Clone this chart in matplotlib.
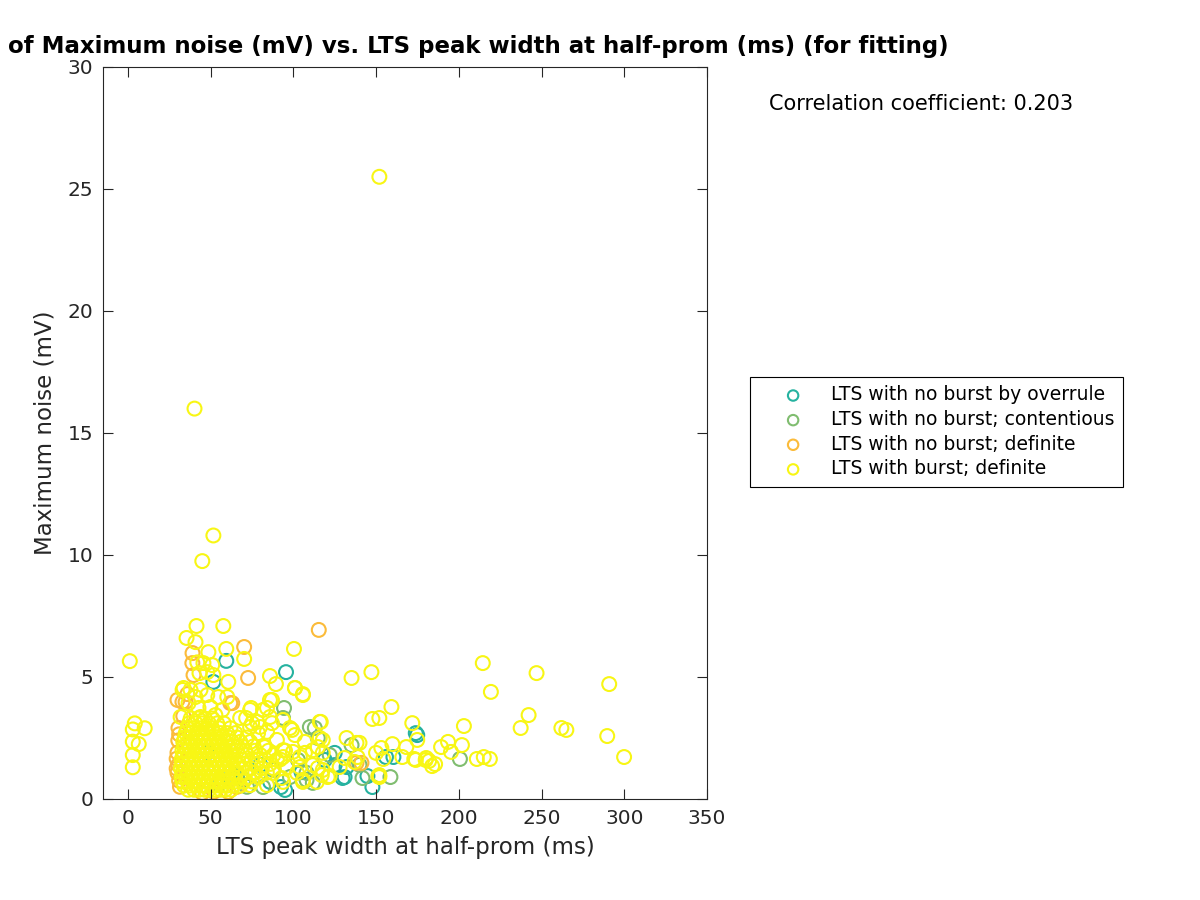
import numpy as np
import matplotlib
matplotlib.use('Agg')
import matplotlib.pyplot as plt

# Data (x: LTS peak width at half-prom (ms), y: maximum noise (mV))
overrule = [(59.5, 5.66), (51.7, 4.80), (95.6, 5.20), (125.0, 1.89), (131.0, 0.90),
            (144.8, 0.94), (147.8, 0.49), (160.5, 1.72), (174.9, 2.62), (174.0, 2.70),
            (92.5, 0.49), (95.0, 0.37), (119.0, 1.60), (129.8, 0.86), (132.2, 1.31),
            (125.0, 1.39), (156.0, 1.72), (62.0, 1.10), (70.0, 0.80), (80.0, 1.40),
            (55.0, 0.60), (48.0, 1.90), (86.0, 0.70), (105.0, 1.10)]

contentious = [(94.4, 3.73), (93.8, 3.32), (113.0, 2.91), (114.8, 2.50), (135.2, 2.21),
               (141.8, 0.86), (158.7, 0.90), (200.7, 1.64), (108.0, 0.78), (111.8, 0.66),
               (102.8, 1.60), (110.0, 2.95), (108.0, 1.07), (81.7, 0.49), (72.0, 0.50),
               (122.0, 1.80), (88.0, 1.20), (66.0, 0.90), (98.0, 0.90), (140.0, 1.40)]

no_burst = [(39.1, 5.98), (70.3, 6.23), (72.7, 4.96), (115.4, 6.93), (63.1, 3.93),
            (39.0, 5.57), (39.7, 5.08), (33.0, 3.98), (34.9, 3.98), (30.6, 2.91),
            (30.5, 2.40), (30.0, 1.90), (30.5, 1.40), (30.0, 1.07), (31.0, 0.75),
            (31.5, 0.50), (61.9, 3.93), (138.2, 1.48), (141.2, 1.48), (30.0, 4.06),
            (31.0, 2.65), (29.5, 1.65), (29.5, 1.25), (66.0, 0.50), (60.7, 0.29),
            (36.0, 4.30), (33.5, 3.40), (45.0, 0.25), (52.0, 0.30)]

burst = [
    # outliers
    (152.0, 25.5), (40.3, 16.0), (51.7, 10.8), (45.0, 9.75), (1.2, 5.65),
    (4.2, 3.10), (3.0, 2.85), (10.2, 2.90), (3.0, 2.35), (6.6, 2.25),
    (3.0, 1.80), (3.0, 1.30),
    # right tail
    (214.5, 5.57), (247.0, 5.16), (290.9, 4.71), (219.4, 4.39), (242.2, 3.44),
    (237.4, 2.91), (262.0, 2.91), (265.0, 2.83), (289.7, 2.58), (299.9, 1.72),
    (203.1, 2.99), (201.9, 2.21), (189.3, 2.13), (193.5, 2.34), (195.3, 1.93),
    (210.9, 1.64), (215.1, 1.72), (218.8, 1.64), (183.9, 1.35), (185.7, 1.43),
    (182.1, 1.56), (180.3, 1.68), (173.1, 1.64), (171.9, 3.11), (174.9, 2.42),
    (168.3, 2.13), (159.9, 2.25), (153.2, 2.09), (154.4, 1.64), (165.9, 1.72),
    (151.4, 0.94), (159.3, 3.77), (147.8, 3.28), (152.0, 3.32), (135.2, 4.96),
    (147.2, 5.20), (105.8, 4.30), (140.0, 2.30), (132.2, 2.50), (122.0, 0.94),
    (117.2, 0.98), (116.0, 3.16), (174.0, 1.60), (180.0, 1.60), (152.0, 0.90),
    (150.0, 1.89), (152.0, 0.98), (138.8, 1.72), (138.2, 2.30),
    # middle region
    (41.5, 7.09), (57.7, 7.09), (35.5, 6.60), (40.9, 6.43), (48.7, 6.02),
    (59.5, 6.15), (70.3, 5.74), (60.7, 4.80), (100.4, 6.15), (85.9, 5.04),
    (89.5, 4.71), (101.0, 4.55), (87.1, 4.06), (84.1, 3.73), (74.5, 3.73),
    (60.1, 4.18), (33.1, 4.47), (71.5, 3.32), (78.1, 3.16), (98.0, 2.91),
    (116.6, 3.16), (42.0, 5.60), (45.7, 5.57), (51.0, 5.49), (43.3, 5.16),
    (48.0, 5.20), (51.7, 5.08), (33.7, 4.55), (37.9, 4.47), (43.9, 4.47),
    (36.7, 3.93), (40.9, 4.18), (48.0, 4.26), (54.7, 4.18), (42.7, 3.73),
    (49.9, 3.77), (57.1, 3.65), (31.9, 3.36), (43.9, 3.36), (52.9, 3.44),
    (67.9, 3.32), (73.9, 3.65), (81.7, 3.65), (85.9, 4.06), (75.1, 3.11),
    (79.9, 2.95), (87.1, 3.11), (85.9, 3.36), (101.0, 4.55), (105.8, 4.26),
    (93.8, 3.24), (99.2, 2.83), (116.0, 2.50), (114.8, 2.13), (107.0, 2.34),
    (111.8, 2.00), (107.0, 1.89), (99.8, 1.93), (131.0, 1.68), (137.0, 1.52),
    (128.0, 1.31), (105.8, 0.78), (117.8, 1.19), (111.8, 1.39), (93.8, 1.72),
    (93.0, 0.86), (104.0, 1.31), (73.9, 2.95), (78.7, 2.70), (84.1, 2.75),
    (90.1, 2.42), (101.0, 2.62), (82.9, 2.13), (93.8, 2.00), (104.0, 1.72),
    (90.1, 1.60), (78.1, 1.60), (96.2, 1.31), (102.2, 1.07), (87.7, 1.07),
    (75.7, 1.07), (93.8, 0.70), (105.8, 0.70), (84.1, 0.57), (73.9, 0.57),
    (114.8, 1.27), (117.8, 1.89), (117.8, 2.42), (120.8, 0.90), (114.2, 0.70),
    # dense core
    (36.5, 0.38), (40.0, 0.38), (43.0, 0.38), (46.5, 0.38), (49.0, 0.38),
    (52.5, 0.38), (56.0, 0.38), (59.0, 0.38), (62.5, 0.38),
    (34.0, 0.55), (37.5, 0.55), (41.0, 0.55), (44.0, 0.55), (47.0, 0.55),
    (50.5, 0.55), (53.0, 0.55), (57.0, 0.55), (60.0, 0.55), (64.0, 0.55),
    (68.0, 0.55),
    (33.0, 0.72), (36.0, 0.72), (39.5, 0.72), (42.5, 0.72), (45.5, 0.72),
    (48.5, 0.72), (52.0, 0.72), (55.0, 0.72), (58.5, 0.72), (61.5, 0.72),
    (65.0, 0.72), (70.0, 0.72), (75.0, 0.72),
    (32.5, 0.90), (35.5, 0.90), (38.5, 0.90), (41.5, 0.90), (44.5, 0.90),
    (47.5, 0.90), (51.0, 0.90), (54.0, 0.90), (57.5, 0.90), (60.5, 0.90),
    (64.0, 0.90), (68.0, 0.90), (73.0, 0.90), (79.0, 0.90),
    (33.0, 1.08), (36.0, 1.08), (39.0, 1.08), (42.0, 1.08), (45.5, 1.08),
    (48.5, 1.08), (51.5, 1.08), (55.0, 1.08), (58.0, 1.08), (61.0, 1.08),
    (65.0, 1.08), (71.0, 1.08), (77.0, 1.08), (84.0, 1.08),
    (32.0, 1.26), (35.0, 1.26), (38.5, 1.26), (41.5, 1.26), (44.5, 1.26),
    (47.5, 1.26), (50.5, 1.26), (53.5, 1.26), (57.0, 1.26), (60.0, 1.26),
    (63.5, 1.26), (67.0, 1.26), (74.0, 1.26), (81.0, 1.26), (88.0, 1.26),
    (33.0, 1.44), (36.5, 1.44), (39.5, 1.44), (42.5, 1.44), (45.5, 1.44),
    (49.0, 1.44), (52.0, 1.44), (55.5, 1.44), (58.5, 1.44), (62.0, 1.44),
    (66.0, 1.44), (70.0, 1.44), (78.0, 1.44), (86.0, 1.44),
    (32.5, 1.62), (35.5, 1.62), (38.5, 1.62), (41.5, 1.62), (45.0, 1.62),
    (48.0, 1.62), (51.0, 1.62), (54.0, 1.62), (57.5, 1.62), (61.0, 1.62),
    (64.5, 1.62), (69.0, 1.62), (75.0, 1.62), (83.0, 1.62), (92.0, 1.62),
    (33.5, 1.80), (36.5, 1.80), (40.0, 1.80), (43.0, 1.80), (46.0, 1.80),
    (49.5, 1.80), (52.5, 1.80), (56.0, 1.80), (59.0, 1.80), (62.5, 1.80),
    (67.0, 1.80), (72.0, 1.80), (80.0, 1.80), (88.0, 1.80),
    (33.0, 1.98), (36.0, 1.98), (39.0, 1.98), (42.5, 1.98), (45.5, 1.98),
    (48.5, 1.98), (51.5, 1.98), (55.0, 1.98), (58.5, 1.98), (62.0, 1.98),
    (66.0, 1.98), (71.0, 1.98), (77.0, 1.98), (85.0, 1.98), (95.0, 1.98),
    (34.0, 2.16), (37.0, 2.16), (40.5, 2.16), (43.5, 2.16), (46.5, 2.16),
    (50.0, 2.16), (53.5, 2.16), (57.0, 2.16), (60.5, 2.16), (64.0, 2.16),
    (69.0, 2.16), (76.0, 2.16), (82.0, 2.16),
    (33.5, 2.34), (36.5, 2.34), (39.5, 2.34), (42.5, 2.34), (46.0, 2.34),
    (49.0, 2.34), (52.0, 2.34), (55.5, 2.34), (59.0, 2.34), (63.0, 2.34),
    (68.0, 2.34), (74.0, 2.34),
    (34.5, 2.52), (38.0, 2.52), (41.0, 2.52), (44.0, 2.52), (47.0, 2.52),
    (50.5, 2.52), (54.0, 2.52), (57.5, 2.52), (61.0, 2.52), (66.0, 2.52),
    (72.0, 2.52),
    (35.0, 2.70), (38.5, 2.70), (42.0, 2.70), (45.0, 2.70), (48.5, 2.70),
    (52.0, 2.70), (56.0, 2.70), (60.0, 2.70), (65.0, 2.70),
    (36.0, 2.90), (40.0, 2.90), (44.0, 2.90), (47.5, 2.90), (51.0, 2.90),
    (55.0, 2.90), (62.0, 2.90),
    (37.0, 3.10), (41.0, 3.10), (45.0, 3.10), (49.0, 3.10), (54.0, 3.10),
    (58.0, 3.10),
    (38.0, 3.30), (42.5, 3.30), (46.5, 3.30), (51.0, 3.30),
]

series = [overrule, contentious, no_burst, burst]
labels = ['LTS with no burst by overrule', 'LTS with no burst; contentious',
          'LTS with no burst; definite', 'LTS with burst; definite']
colors = ['#26b2a0', '#80bd70', '#fbbb3a', '#f8f614']
corr_coef = 0.203
# only the visible part of the (clipped) title
title = 'of Maximum noise (mV) vs. LTS peak width at half-prom (ms) (for fitting)'

fig = plt.figure(figsize=(12, 9), dpi=100)
ax = fig.add_axes([103 / 1200, 101 / 900, 604 / 1200, 732 / 900])

for pts, lab, col in zip(series, labels, colors):
    xy = np.array(pts)
    ax.scatter(xy[:, 0], xy[:, 1], s=100, facecolors='none', edgecolors=col,
               linewidths=1.5, label=lab)

ax.set_xlim(-15, 350)
ax.set_ylim(0, 30)
ax.set_xticks(np.arange(0, 351, 50))
ax.set_yticks(np.arange(0, 31, 5))
ax.tick_params(direction='in', top=True, right=True, labelsize=14.5,
               colors='#262626', length=7, pad=7)
for sp in ax.spines.values():
    sp.set_color('#262626')
ax.set_xlabel('LTS peak width at half-prom (ms)', fontsize=16.5, color='#262626',
              labelpad=6)
ax.set_ylabel('Maximum noise (mV)', fontsize=16.5, color='#262626', labelpad=8)

fig.text(8 / 1200, 1 - 47 / 900, title, fontsize=16.5, fontweight='bold',
         ha='left', va='center')

fig.text(769 / 1200, 1 - 104 / 900, 'Correlation coefficient: %.3f' % corr_coef,
         fontsize=15, va='center', ha='left')

leg = fig.legend(loc='upper left', bbox_to_anchor=(750 / 1200, 1 - 377 / 900),
                 borderaxespad=0, fontsize=13.5, frameon=True, fancybox=False,
                 edgecolor='black', framealpha=1, borderpad=0.45,
                 handletextpad=0.15, labelspacing=0.3, markerscale=0.75,
                 handlelength=3.7)
leg.get_frame().set_linewidth(0.8)

fig.savefig('out.png', dpi=100)
